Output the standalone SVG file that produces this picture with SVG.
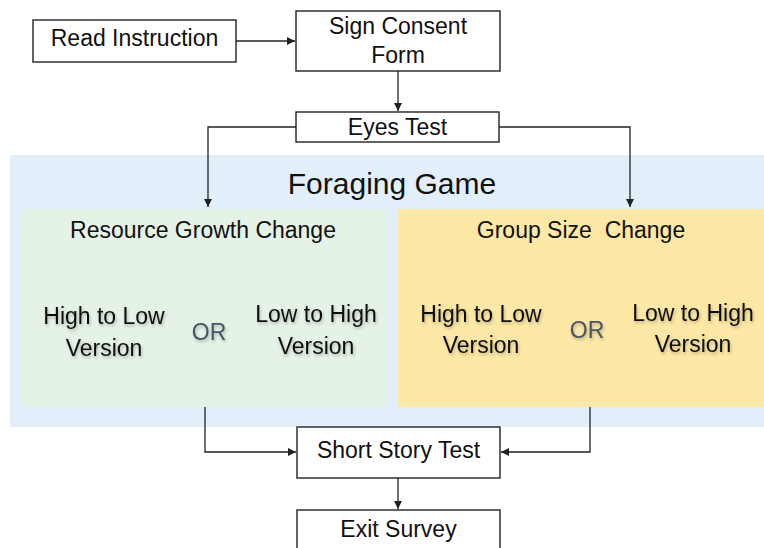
<svg xmlns="http://www.w3.org/2000/svg" width="764" height="548" viewBox="0 0 764 548">
  <style>
    .box { fill: #ffffff; stroke: #222222; stroke-width: 1.4; }
    .lbl { font-family: "Liberation Sans", Arial, sans-serif; font-size: 23px; fill: #111111; text-anchor: middle; }
    .title { font-family: "Liberation Sans", Arial, sans-serif; font-size: 30px; fill: #111111; text-anchor: middle; }
    .ver { font-family: "Liberation Sans", Arial, sans-serif; font-size: 23px; fill: #111111; text-anchor: middle; filter: url(#soft); }
    .or { font-family: "Liberation Sans", Arial, sans-serif; font-size: 23px; fill: #4a5566; text-anchor: middle; filter: url(#soft); }
    .conn { fill: none; stroke: #222222; stroke-width: 1.3; }
  </style>
  <defs>
    <marker id="arrow" viewBox="0 0 10 10" refX="10" refY="5" markerWidth="8" markerHeight="8" markerUnits="userSpaceOnUse" orient="auto">
      <path d="M0,0 L10,5 L0,10 z" fill="#222222"/>
    </marker>
    <filter id="soft" x="-10%" y="-20%" width="130%" height="150%">
      <feDropShadow dx="1" dy="2" stdDeviation="1.5" flood-color="#000000" flood-opacity="0.25"/>
    </filter>
  </defs>

  <rect width="764" height="548" fill="#ffffff"/>

  <!-- game container -->
  <g id="foraging-game">
    <rect x="10" y="155" width="754" height="272" fill="#e2effa"/>
    <text class="title" x="392" y="194">Foraging Game</text>
  </g>

  <g id="resource-growth">
    <rect x="21" y="209" width="365" height="198" fill="#e5f2e6"/>
    <text class="lbl" x="203" y="238">Resource Growth Change</text>
    <text class="ver" x="104" y="324">High to Low</text>
    <text class="ver" x="104" y="356">Version</text>
    <text class="or" x="209" y="340">OR</text>
    <text class="ver" x="316" y="322">Low to High</text>
    <text class="ver" x="316" y="354">Version</text>
  </g>

  <g id="group-size">
    <rect x="398" y="209" width="366" height="198" fill="#fde8a5"/>
    <text class="lbl" x="581" y="238" xml:space="preserve">Group Size  Change</text>
    <text class="ver" x="481" y="322">High to Low</text>
    <text class="ver" x="481" y="353">Version</text>
    <text class="or" x="587" y="338">OR</text>
    <text class="ver" x="693" y="321">Low to High</text>
    <text class="ver" x="693" y="352">Version</text>
  </g>

  <!-- steps -->
  <g id="read-instruction">
    <rect class="box" x="33" y="20" width="203" height="42"/>
    <text class="lbl" x="134.5" y="46">Read Instruction</text>
  </g>

  <g id="sign-consent">
    <rect class="box" x="296" y="11" width="204" height="60"/>
    <text class="lbl" x="398" y="34">Sign Consent</text>
    <text class="lbl" x="398" y="63">Form</text>
  </g>

  <g id="eyes-test">
    <rect class="box" x="296" y="112" width="203" height="30"/>
    <text class="lbl" x="397.5" y="135">Eyes Test</text>
  </g>

  <g id="short-story">
    <rect class="box" x="297" y="427" width="203" height="51"/>
    <text class="lbl" x="398.5" y="458">Short Story Test</text>
  </g>

  <g id="exit-survey">
    <rect class="box" x="297" y="510" width="203" height="45"/>
    <text class="lbl" x="398.5" y="537">Exit Survey</text>
  </g>

  <!-- connectors -->
  <g id="connectors">
    <path class="conn" d="M236,41 H295" marker-end="url(#arrow)"/>
    <path class="conn" d="M398,71 V111" marker-end="url(#arrow)"/>
    <path class="conn" d="M296,127 H208 V207" marker-end="url(#arrow)"/>
    <path class="conn" d="M499,127 H630 V207" marker-end="url(#arrow)"/>
    <path class="conn" d="M205,407 V452 H296" marker-end="url(#arrow)"/>
    <path class="conn" d="M590,407 V452 H501" marker-end="url(#arrow)"/>
    <path class="conn" d="M398,478 V509" marker-end="url(#arrow)"/>
  </g>
</svg>
